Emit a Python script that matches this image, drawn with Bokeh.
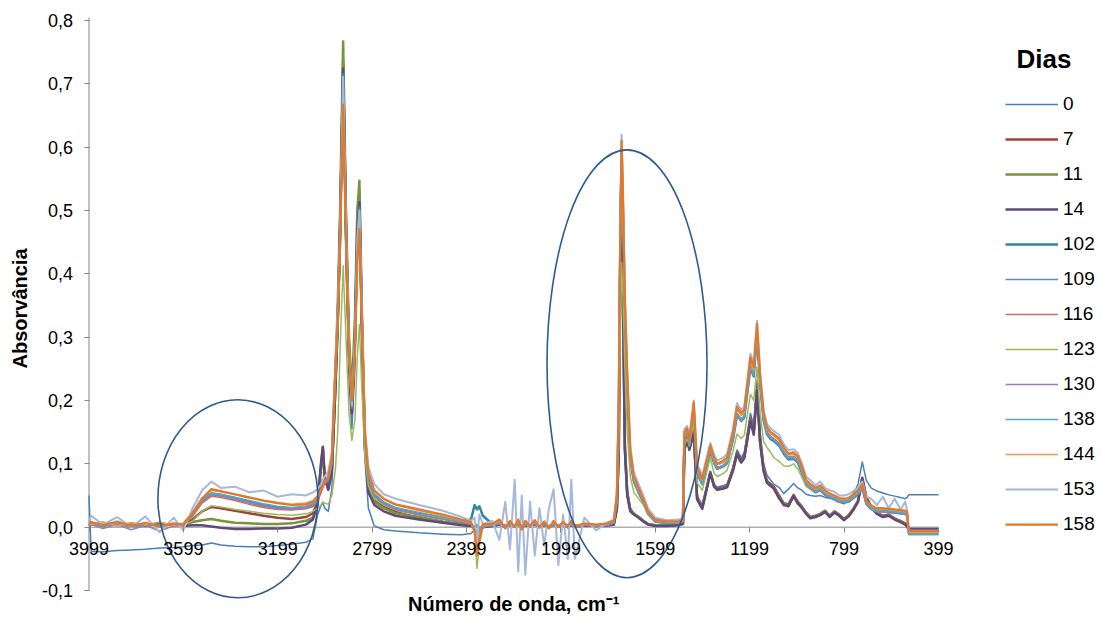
import numpy as np
from bokeh.plotting import figure
from bokeh.models import (Range1d, FixedTicker, CustomJSTickFormatter, Legend,
                          LegendItem, Label, ColumnDataSource)
from bokeh.embed import file_html
from bokeh.resources import INLINE

NA = float("nan")

# shared wavenumber grid (cm-1)
wavenumber = [
    3999, 3990, 3940, 3880, 3820, 3760, 3700, 3640, 3600, 3560, 3520, 3480, 3440, 3380, 3320, 3260, 3200, 3140, 3080,
    3050, 3030, 3015, 3008, 3000, 2985, 2970, 2955, 2945, 2935, 2922, 2910, 2897, 2885, 2872, 2862, 2853, 2843, 2830, 2815, 2790, 2750, 2700,
    2600, 2500, 2420, 2380, 2365, 2355, 2345, 2330,
    2290, 2260, 2235, 2215, 2195, 2180, 2165, 2150, 2130, 2110, 2090, 2070, 2050, 2030, 2010, 1990, 1970, 1955, 1940, 1900, 1850, 1800,
    1775, 1762, 1754, 1748, 1742, 1736, 1728, 1718, 1705, 1690, 1670, 1650, 1630, 1600,
    1550, 1500, 1482, 1476, 1464, 1455, 1436, 1422, 1400, 1366, 1350, 1337, 1310, 1295, 1270, 1253, 1235, 1222, 1196, 1182, 1168, 1155, 1140, 1126, 1110, 1097, 1075,
    1055, 1035, 1013, 995, 977, 960, 942, 920, 900, 880, 860, 840, 820, 800, 780, 760, 740, 722, 705, 685, 660, 635, 610, 585, 560, 540, 532, 525, 470, 399,
]

abs_0 = [
    0.050, -0.038, -0.039, -0.037, -0.036, -0.035, -0.033, -0.032, -0.031, -0.029, -0.028, -0.025, -0.028, -0.030, -0.031, -0.031, -0.029, -0.027, -0.024,
    -0.018, 0.020, 0.035, 0.038, 0.030, 0.025, 0.060, 0.200, 0.320, 0.420, 0.700, 0.420, 0.230, 0.155, 0.250, 0.420, 0.490, 0.300, 0.110, 0.030, 0.002, -0.004, -0.006,
    -0.009, -0.011, -0.012, -0.010, -0.004, 0.004, 0.000, 0.001,
    0.001, 0.003, 0.000, 0.002, 0.001, 0.003, 0.000, 0.002, 0.001, 0.003, 0.000, 0.002, 0.001, 0.003, 0.000, 0.002, 0.001, 0.002, 0.000, 0.002, 0.001, 0.002,
    0.004, 0.030, 0.120, 0.380, 0.560, 0.350, 0.130, 0.060, 0.030, 0.022, 0.016, 0.010, 0.005, 0.003,
    0.003, 0.004, 0.006, 0.120, 0.140, 0.125, 0.150, 0.050, 0.035, 0.088, 0.068, 0.063, 0.066, 0.068, 0.095, 0.122, 0.110, 0.118, 0.180, 0.160, 0.232, 0.150, 0.100, 0.082, 0.074, 0.068, 0.063,
    0.053, 0.060, 0.069, 0.062, 0.058, 0.052, 0.050, 0.049, 0.050, 0.047, 0.046, 0.044, 0.040, 0.037, 0.044, 0.052, 0.068, 0.103, 0.074, 0.062, 0.057, 0.054, 0.051, 0.049, 0.047, 0.045, 0.047, 0.051, 0.051, 0.051,
]

abs_7 = [
    NA, NA, NA, NA, NA, NA, NA, NA, 0.003, 0.012, 0.025, 0.032, 0.030, 0.026, 0.022, 0.018, 0.015, 0.013, 0.016,
    0.022, 0.040, 0.100, 0.126, 0.080, 0.060, 0.090, 0.220, 0.320, 0.470, 0.735, 0.480, 0.280, 0.185, 0.300, 0.470, 0.520, 0.330, 0.130, 0.062, 0.042, 0.032, 0.024,
    0.014, 0.008, 0.004, 0.003, -0.002, -0.018, -0.008, 0.002,
    0.003, 0.006, 0.001, 0.005, 0.002, 0.006, 0.000, 0.005, 0.002, 0.006, 0.001, 0.005, 0.001, 0.005, 0.002, 0.005, 0.001, 0.005, 0.002, 0.004, 0.003, 0.004,
    0.005, 0.030, 0.120, 0.400, 0.585, 0.360, 0.125, 0.052, 0.027, 0.021, 0.016, 0.010, 0.005, 0.003,
    0.003, 0.004, 0.006, 0.125, 0.142, 0.126, 0.152, 0.047, 0.032, 0.087, 0.066, 0.061, 0.063, 0.065, 0.092, 0.118, 0.105, 0.112, 0.172, 0.150, 0.220, 0.137, 0.092, 0.073, 0.068, 0.064, 0.050,
    0.038, 0.036, 0.051, 0.040, 0.032, 0.023, 0.016, 0.018, 0.021, 0.026, 0.018, 0.025, 0.020, 0.013, 0.019, 0.029, 0.042, 0.078, 0.048, 0.033, 0.023, 0.018, 0.020, 0.014, 0.010, 0.006, 0.003, -0.006, -0.006, -0.006,
]

abs_11 = [
    NA, NA, NA, NA, NA, NA, NA, NA, 0.003, 0.008, 0.011, 0.013, 0.010, 0.007, 0.006, 0.005, 0.005, 0.006, 0.010,
    0.015, 0.035, 0.095, 0.118, 0.078, 0.062, 0.095, 0.240, 0.350, 0.500, 0.767, 0.500, 0.300, 0.210, 0.330, 0.500, 0.547, 0.350, 0.135, 0.062, 0.040, 0.030, 0.022,
    0.016, 0.009, 0.005, 0.004, -0.001, -0.015, -0.006, 0.002,
    0.002, 0.005, 0.001, 0.004, 0.002, 0.005, 0.001, 0.004, 0.002, 0.005, 0.001, 0.004, 0.001, 0.004, 0.002, 0.004, 0.001, 0.004, 0.002, 0.004, 0.002, 0.004,
    0.005, 0.032, 0.125, 0.410, 0.590, 0.370, 0.130, 0.055, 0.028, 0.021, 0.016, 0.010, 0.005, 0.003,
    0.003, 0.004, 0.006, 0.123, 0.140, 0.124, 0.150, 0.046, 0.031, 0.086, 0.065, 0.060, 0.062, 0.064, 0.090, 0.116, 0.103, 0.110, 0.170, 0.148, 0.218, 0.135, 0.090, 0.071, 0.066, 0.062, 0.048,
    0.037, 0.034, 0.050, 0.038, 0.031, 0.022, 0.015, 0.017, 0.020, 0.025, 0.017, 0.024, 0.019, 0.012, 0.018, 0.028, 0.041, 0.076, 0.047, 0.032, 0.022, 0.017, 0.019, 0.013, 0.009, 0.005, 0.002, -0.004, -0.004, -0.004,
]

abs_14 = [
    NA, NA, NA, NA, NA, NA, NA, NA, 0.002, 0.003, 0.003, 0.001, -0.001, -0.003, -0.003, -0.002, -0.002, -0.001, 0.004,
    0.012, 0.040, 0.105, 0.127, 0.078, 0.059, 0.088, 0.220, 0.320, 0.470, 0.724, 0.470, 0.270, 0.180, 0.300, 0.470, 0.513, 0.320, 0.125, 0.055, 0.035, 0.025, 0.018,
    0.012, 0.007, 0.003, 0.002, 0.000, -0.020, -0.010, 0.000,
    0.002, 0.004, 0.000, 0.004, 0.001, 0.005, -0.001, 0.004, 0.001, 0.005, 0.000, 0.004, 0.000, 0.004, 0.001, 0.004, 0.000, 0.004, 0.001, 0.003, 0.002, 0.003,
    0.004, 0.028, 0.115, 0.390, 0.580, 0.350, 0.120, 0.050, 0.025, 0.020, 0.015, 0.009, 0.004, 0.002,
    0.002, 0.003, 0.005, 0.122, 0.138, 0.122, 0.148, 0.044, 0.029, 0.085, 0.064, 0.059, 0.061, 0.063, 0.089, 0.115, 0.102, 0.109, 0.168, 0.146, 0.216, 0.133, 0.088, 0.070, 0.065, 0.061, 0.046,
    0.035, 0.033, 0.049, 0.037, 0.030, 0.021, 0.014, 0.016, 0.019, 0.024, 0.016, 0.023, 0.018, 0.011, 0.017, 0.027, 0.040, 0.077, 0.046, 0.031, 0.021, 0.016, 0.018, 0.012, 0.008, 0.004, 0.001, -0.003, -0.003, -0.003,
]

abs_102 = [
    0.005, 0.004, 0.007, 0.003, 0.006, 0.002, 0.006, 0.003, 0.005, 0.021, 0.043, 0.053, 0.051, 0.046, 0.040, 0.035, 0.031, 0.029, 0.031,
    0.035, 0.045, 0.065, 0.075, 0.072, 0.076, 0.102, 0.240, 0.325, 0.455, 0.715, 0.465, 0.272, 0.192, 0.290, 0.450, 0.505, 0.330, 0.140, 0.076, 0.050, 0.038, 0.029,
    0.021, 0.014, 0.009, 0.012, 0.035, 0.028, 0.033, 0.018,
    0.005, 0.006, 0.002, 0.006, 0.002, 0.006, 0.001, 0.005, 0.002, 0.006, 0.001, 0.005, 0.001, 0.005, 0.002, 0.005, 0.001, 0.005, 0.002, 0.004, 0.003, 0.004,
    0.007, 0.042, 0.175, 0.425, 0.598, 0.495, 0.335, 0.220, 0.107, 0.072, 0.055, 0.040, 0.021, 0.009,
    0.006, 0.006, 0.009, 0.140, 0.148, 0.130, 0.185, 0.085, 0.068, 0.120, 0.101, 0.092, 0.096, 0.101, 0.138, 0.177, 0.168, 0.173, 0.252, 0.238, 0.304, 0.225, 0.168, 0.147, 0.139, 0.136, 0.129,
    0.116, 0.107, 0.108, 0.102, 0.085, 0.068, 0.061, 0.055, 0.059, 0.051, 0.047, 0.044, 0.040, 0.039, 0.040, 0.046, 0.052, 0.062, 0.037, 0.029, 0.025, 0.025, 0.024, 0.023, 0.022, 0.021, 0.019, -0.010, -0.010, -0.010,
]

abs_109 = [
    0.002, 0.005, 0.001, 0.005, 0.000, 0.004, 0.001, 0.004, 0.003, 0.018, 0.040, 0.051, 0.049, 0.044, 0.038, 0.033, 0.029, 0.028, 0.030,
    0.033, 0.043, 0.056, 0.064, 0.069, 0.075, 0.100, 0.235, 0.320, 0.450, 0.705, 0.460, 0.268, 0.190, 0.282, 0.440, 0.498, 0.325, 0.138, 0.074, 0.049, 0.037, 0.028,
    0.020, 0.013, 0.008, 0.005, -0.002, -0.010, -0.004, 0.003,
    0.003, 0.006, 0.000, 0.005, 0.001, 0.006, -0.001, 0.005, 0.001, 0.006, 0.000, 0.005, 0.000, 0.005, 0.001, 0.005, 0.000, 0.005, 0.001, 0.004, 0.002, 0.004,
    0.007, 0.043, 0.178, 0.428, 0.597, 0.497, 0.337, 0.222, 0.108, 0.073, 0.056, 0.040, 0.021, 0.009,
    0.006, 0.006, 0.009, 0.141, 0.149, 0.131, 0.186, 0.086, 0.069, 0.121, 0.102, 0.093, 0.097, 0.102, 0.139, 0.178, 0.169, 0.174, 0.254, 0.240, 0.306, 0.227, 0.170, 0.149, 0.141, 0.138, 0.131,
    0.118, 0.109, 0.110, 0.104, 0.087, 0.069, 0.062, 0.056, 0.060, 0.052, 0.048, 0.045, 0.041, 0.040, 0.041, 0.047, 0.053, 0.062, 0.037, 0.029, 0.025, 0.025, 0.024, 0.023, 0.022, 0.021, 0.019, -0.011, -0.011, -0.011,
]

abs_116 = [
    0.003, 0.005, 0.002, 0.006, 0.001, 0.005, 0.002, 0.004, 0.003, 0.017, 0.038, 0.049, 0.047, 0.042, 0.036, 0.031, 0.028, 0.027, 0.029,
    0.032, 0.042, 0.055, 0.063, 0.068, 0.074, 0.098, 0.232, 0.318, 0.448, 0.700, 0.455, 0.265, 0.188, 0.280, 0.435, 0.492, 0.322, 0.136, 0.073, 0.048, 0.036, 0.027,
    0.019, 0.013, 0.008, 0.005, -0.002, -0.012, -0.005, 0.003,
    0.003, 0.005, 0.001, 0.005, 0.001, 0.006, 0.000, 0.005, 0.001, 0.005, 0.000, 0.005, 0.001, 0.005, 0.001, 0.005, 0.000, 0.005, 0.001, 0.004, 0.002, 0.004,
    0.007, 0.042, 0.176, 0.426, 0.595, 0.495, 0.335, 0.220, 0.107, 0.072, 0.055, 0.040, 0.021, 0.009,
    0.006, 0.006, 0.009, 0.142, 0.150, 0.132, 0.187, 0.087, 0.070, 0.122, 0.103, 0.094, 0.098, 0.103, 0.140, 0.179, 0.170, 0.175, 0.256, 0.242, 0.305, 0.228, 0.171, 0.151, 0.143, 0.140, 0.133,
    0.120, 0.111, 0.112, 0.106, 0.089, 0.071, 0.064, 0.058, 0.062, 0.054, 0.050, 0.047, 0.043, 0.042, 0.043, 0.049, 0.055, 0.064, 0.039, 0.031, 0.027, 0.027, 0.026, 0.025, 0.024, 0.023, 0.021, -0.007, -0.007, -0.007,
]

abs_123 = [
    NA, NA, NA, NA, NA, NA, NA, NA, 0.003, 0.010, 0.025, 0.034, 0.032, 0.028, 0.025, 0.022, 0.020, 0.019, 0.021,
    0.025, 0.030, 0.035, 0.040, 0.038, 0.036, 0.050, 0.090, 0.150, 0.280, 0.413, 0.300, 0.180, 0.137, 0.170, 0.270, 0.320, 0.220, 0.110, 0.065, 0.045, 0.035, 0.028,
    0.020, 0.014, 0.009, 0.006, -0.010, -0.065, -0.030, 0.000,
    0.004, 0.007, 0.002, 0.006, 0.003, 0.007, 0.001, 0.006, 0.003, 0.007, 0.002, 0.006, 0.002, 0.006, 0.003, 0.006, 0.002, 0.006, 0.003, 0.005, 0.004, 0.005,
    0.008, 0.040, 0.130, 0.300, 0.418, 0.360, 0.250, 0.150, 0.080, 0.055, 0.045, 0.035, 0.020, 0.010,
    0.007, 0.007, 0.010, 0.130, 0.140, 0.128, 0.170, 0.070, 0.058, 0.110, 0.085, 0.080, 0.085, 0.090, 0.120, 0.147, 0.140, 0.145, 0.210, 0.200, 0.253, 0.180, 0.135, 0.126, 0.118, 0.110, 0.104,
    0.097, 0.096, 0.100, 0.092, 0.078, 0.064, 0.060, 0.057, 0.060, 0.054, 0.050, 0.047, 0.043, 0.042, 0.043, 0.049, 0.055, 0.066, 0.040, 0.032, 0.028, 0.028, 0.027, 0.026, 0.025, 0.024, 0.022, -0.009, -0.009, -0.009,
]

abs_130 = [
    0.002, 0.004, -0.002, 0.004, -0.004, 0.003, -0.006, 0.002, 0.002, 0.019, 0.041, 0.052, 0.050, 0.045, 0.039, 0.034, 0.030, 0.029, 0.031,
    0.034, 0.044, 0.057, 0.065, 0.070, 0.076, 0.101, 0.238, 0.322, 0.452, 0.710, 0.462, 0.270, 0.191, 0.285, 0.445, 0.502, 0.328, 0.139, 0.075, 0.049, 0.037, 0.028,
    0.020, 0.013, 0.008, 0.005, -0.003, -0.018, -0.007, 0.002,
    0.002, 0.005, -0.002, 0.004, 0.000, 0.005, -0.003, 0.004, 0.000, 0.005, -0.001, 0.004, -0.002, 0.004, 0.000, 0.004, -0.001, 0.004, 0.000, 0.003, 0.001, 0.003,
    0.007, 0.043, 0.177, 0.427, 0.596, 0.496, 0.336, 0.221, 0.108, 0.073, 0.056, 0.040, 0.021, 0.009,
    0.006, 0.006, 0.009, 0.140, 0.148, 0.130, 0.185, 0.085, 0.068, 0.120, 0.101, 0.092, 0.096, 0.101, 0.138, 0.177, 0.168, 0.173, 0.253, 0.239, 0.305, 0.226, 0.169, 0.148, 0.140, 0.137, 0.130,
    0.117, 0.108, 0.109, 0.103, 0.086, 0.068, 0.061, 0.055, 0.059, 0.051, 0.047, 0.044, 0.040, 0.039, 0.040, 0.046, 0.052, 0.061, 0.036, 0.028, 0.024, 0.024, 0.023, 0.022, 0.021, 0.020, 0.018, -0.005, -0.005, -0.005,
]

abs_138 = [
    0.003, 0.006, 0.002, 0.006, 0.001, 0.005, 0.002, 0.005, 0.004, 0.020, 0.042, 0.054, 0.052, 0.047, 0.042, 0.037, 0.033, 0.031, 0.033,
    0.037, 0.046, 0.058, 0.066, 0.071, 0.078, 0.105, 0.245, 0.330, 0.455, 0.700, 0.460, 0.270, 0.195, 0.285, 0.440, 0.495, 0.330, 0.145, 0.080, 0.053, 0.040, 0.031,
    0.023, 0.016, 0.010, 0.006, 0.000, -0.012, -0.004, 0.004,
    0.004, 0.007, 0.001, 0.006, 0.002, 0.007, 0.000, 0.006, 0.002, 0.007, 0.001, 0.006, 0.001, 0.006, 0.002, 0.006, 0.001, 0.006, 0.002, 0.005, 0.003, 0.005,
    0.008, 0.045, 0.180, 0.430, 0.600, 0.500, 0.340, 0.225, 0.110, 0.074, 0.057, 0.041, 0.022, 0.010,
    0.007, 0.007, 0.010, 0.143, 0.150, 0.132, 0.188, 0.088, 0.070, 0.122, 0.103, 0.094, 0.098, 0.103, 0.141, 0.180, 0.171, 0.176, 0.256, 0.242, 0.308, 0.229, 0.171, 0.150, 0.142, 0.139, 0.132,
    0.119, 0.110, 0.111, 0.105, 0.088, 0.070, 0.063, 0.057, 0.061, 0.053, 0.049, 0.046, 0.042, 0.041, 0.042, 0.048, 0.054, 0.063, 0.038, 0.030, 0.026, 0.026, 0.025, 0.024, 0.023, 0.022, 0.020, -0.012, -0.012, -0.012,
]

abs_144 = [
    0.006, 0.004, 0.008, 0.002, 0.007, 0.004, 0.008, 0.003, 0.006, 0.024, 0.046, 0.058, 0.056, 0.051, 0.046, 0.042, 0.039, 0.036, 0.038,
    0.042, 0.050, 0.060, 0.067, 0.073, 0.080, 0.110, 0.255, 0.335, 0.460, 0.680, 0.460, 0.275, 0.200, 0.285, 0.430, 0.480, 0.335, 0.150, 0.085, 0.057, 0.044, 0.035,
    0.026, 0.018, 0.011, 0.007, -0.003, -0.030, -0.012, 0.004,
    0.004, 0.009, 0.000, 0.008, 0.001, 0.009, -0.002, 0.008, 0.002, 0.009, 0.001, 0.008, -0.001, 0.008, 0.001, 0.007, 0.002, 0.008, 0.001, 0.005, 0.004, 0.005,
    0.009, 0.048, 0.190, 0.440, 0.600, 0.510, 0.350, 0.235, 0.115, 0.077, 0.060, 0.043, 0.024, 0.011,
    0.008, 0.008, 0.011, 0.148, 0.153, 0.135, 0.192, 0.092, 0.074, 0.126, 0.107, 0.098, 0.102, 0.107, 0.146, 0.186, 0.176, 0.181, 0.262, 0.248, 0.314, 0.235, 0.176, 0.155, 0.147, 0.144, 0.137,
    0.123, 0.114, 0.115, 0.109, 0.092, 0.073, 0.066, 0.060, 0.064, 0.056, 0.052, 0.049, 0.045, 0.044, 0.045, 0.051, 0.057, 0.066, 0.041, 0.033, 0.029, 0.029, 0.028, 0.027, 0.026, 0.025, 0.023, -0.008, -0.008, -0.008,
]

abs_153 = [
    0.010, 0.018, 0.004, 0.016, 0.000, 0.017, -0.008, 0.015, -0.005, 0.030, 0.058, 0.072, 0.062, 0.064, 0.055, 0.058, 0.048, 0.052, 0.050,
    0.055, 0.060, 0.068, 0.075, 0.080, 0.088, 0.118, 0.260, 0.345, 0.470, 0.711, 0.480, 0.285, 0.192, 0.300, 0.455, 0.500, 0.345, 0.160, 0.095, 0.068, 0.052, 0.045,
    0.035, 0.026, 0.016, 0.010, 0.015, -0.030, 0.020, 0.005,
    0.010, -0.020, 0.040, -0.035, 0.075, -0.070, 0.050, -0.075, 0.040, -0.045, 0.030, -0.030, 0.030, 0.060, -0.060, 0.020, -0.050, 0.075, -0.050, 0.015, -0.005, 0.008,
    0.012, 0.055, 0.210, 0.460, 0.620, 0.530, 0.370, 0.250, 0.128, 0.086, 0.068, 0.050, 0.030, 0.015,
    0.011, 0.012, 0.015, 0.155, 0.160, 0.142, 0.200, 0.100, 0.082, 0.133, 0.115, 0.105, 0.110, 0.116, 0.155, 0.196, 0.185, 0.190, 0.274, 0.258, 0.326, 0.245, 0.186, 0.163, 0.156, 0.152, 0.146,
    0.131, 0.122, 0.123, 0.117, 0.100, 0.080, 0.074, 0.066, 0.072, 0.062, 0.058, 0.056, 0.050, 0.050, 0.052, 0.057, 0.062, 0.072, 0.048, 0.045, 0.035, 0.048, 0.030, 0.045, 0.028, 0.040, 0.026, -0.006, -0.006, -0.006,
]

abs_158 = [
    0.004, 0.008, 0.003, 0.009, 0.002, 0.007, 0.001, 0.006, 0.004, 0.022, 0.045, 0.060, 0.057, 0.052, 0.047, 0.042, 0.038, 0.035, 0.036,
    0.040, 0.048, 0.058, 0.065, 0.072, 0.080, 0.110, 0.250, 0.330, 0.450, 0.667, 0.450, 0.270, 0.200, 0.280, 0.420, 0.471, 0.330, 0.150, 0.085, 0.058, 0.045, 0.036,
    0.028, 0.020, 0.012, 0.008, -0.005, -0.045, -0.020, 0.005,
    0.005, 0.012, -0.002, 0.010, 0.000, 0.012, -0.004, 0.010, 0.002, 0.011, 0.000, 0.009, -0.002, 0.010, 0.000, 0.008, 0.002, 0.010, 0.000, 0.006, 0.004, 0.006,
    0.010, 0.050, 0.200, 0.450, 0.610, 0.520, 0.360, 0.240, 0.120, 0.080, 0.062, 0.045, 0.025, 0.012,
    0.009, 0.009, 0.012, 0.150, 0.156, 0.137, 0.197, 0.095, 0.076, 0.129, 0.110, 0.100, 0.105, 0.110, 0.150, 0.190, 0.180, 0.185, 0.268, 0.253, 0.321, 0.240, 0.180, 0.158, 0.150, 0.147, 0.140,
    0.126, 0.116, 0.118, 0.112, 0.095, 0.075, 0.068, 0.062, 0.066, 0.058, 0.053, 0.050, 0.046, 0.045, 0.046, 0.052, 0.058, 0.068, 0.042, 0.034, 0.030, 0.030, 0.029, 0.028, 0.027, 0.026, 0.024, -0.006, -0.006, -0.006,
]

days = ["0", "7", "11", "14", "102", "109", "116", "123", "130", "138", "144", "153", "158"]
series_values = [abs_0, abs_7, abs_11, abs_14, abs_102, abs_109, abs_116, abs_123,
                 abs_130, abs_138, abs_144, abs_153, abs_158]
colors = ["#4A7EBB", "#A0413E", "#77933C", "#604A7B", "#31859C", "#5B8CC8", "#CF6A67",
          "#9BBB59", "#9580B4", "#4BACC6", "#F79646", "#A6B8D8", "#E0782E"]
widths = [1.5, 2.5, 2.5, 2.5, 2.5, 1.5, 1.5, 1.5, 1.5, 1.5, 1.5, 2.0, 2.25]

x_ticks = [3999, 3599, 3199, 2799, 2399, 1999, 1599, 1199, 799, 399]
y_ticks = [-0.1, 0.0, 0.1, 0.2, 0.3, 0.4, 0.5, 0.6, 0.7, 0.8]

# highlight ellipses (centre wavenumber, centre absorbance, width cm-1, height abs.)
ellipse_x = [3368, 1719]
ellipse_y = [0.0448, 0.258]
ellipse_w = [678, 678]
ellipse_h = [0.3126, 0.676]

for name, vals in zip(days, series_values):
    assert len(vals) == len(wavenumber), (name, len(vals), len(wavenumber))

# ---- layout geometry (pixels inside the canvas) ----
W, H = 1100, 616
PLOT_L, PLOT_R = 88.5, 938.0      # pixel x of 3999 and 399
PLOT_T, PLOT_B = 20.0, 590.0      # pixel y of 0.8 and -0.1
cm_per_px = (x_ticks[0] - x_ticks[-1]) / (PLOT_R - PLOT_L)
abs_per_px = (y_ticks[-1] - y_ticks[0]) / (PLOT_B - PLOT_T)
x_start = x_ticks[0] + PLOT_L * cm_per_px
x_end = x_ticks[-1] - (W - PLOT_R) * cm_per_px
y_end = y_ticks[-1] + PLOT_T * abs_per_px
y_start = y_ticks[0] - (H - PLOT_B) * abs_per_px

FONT = "Liberation Sans"
AXIS_COL = "#868686"

p = figure(width=W, height=H, output_backend="svg", toolbar_location=None,
           x_range=Range1d(x_start, x_end), y_range=Range1d(y_start, y_end),
           min_border=0)
p.title.visible = False
p.outline_line_color = None
p.xgrid.visible = False
p.ygrid.visible = False
p.background_fill_color = "white"

# axis lines (limited to the plotting area)
p.line(x=[x_ticks[0], x_ticks[-1]], y=[0, 0], line_color=AXIS_COL, line_width=1)
p.line(x=[x_ticks[0], x_ticks[0]], y=[y_ticks[0], y_ticks[-1] + 3 * abs_per_px],
       line_color=AXIS_COL, line_width=1)

renderers = []
x_arr = np.array(wavenumber, dtype=float)
for name, vals, col, w in zip(days, series_values, colors, widths):
    src = ColumnDataSource(dict(x=x_arr, y=np.array(vals, dtype=float)))
    r = p.line("x", "y", source=src, line_color=col, line_width=w, line_join="round")
    renderers.append((name, r))

p.ellipse(x=ellipse_x, y=ellipse_y, width=ellipse_w, height=ellipse_h,
          fill_color=None, line_color="#2F5B8E", line_width=1.6)

# x axis drawn at y = 0
xa = p.xaxis[0]
xa.fixed_location = 0
xa.ticker = FixedTicker(ticks=x_ticks)
xa.axis_line_color = None
xa.major_tick_line_color = AXIS_COL
xa.major_tick_out = 5
xa.major_tick_in = 0
xa.minor_tick_line_color = None
xa.major_label_text_font = FONT
xa.major_label_text_font_size = "18px"
xa.major_label_text_color = "black"
xa.major_label_standoff = 10

# y axis drawn at x = 3999
ya = p.yaxis[0]
ya.fixed_location = x_ticks[0]
ya.ticker = FixedTicker(ticks=y_ticks)
ya.formatter = CustomJSTickFormatter(code="return tick.toFixed(1).replace('.', ',');")
ya.axis_line_color = None
ya.major_tick_line_color = AXIS_COL
ya.major_tick_out = 5
ya.major_tick_in = 0
ya.minor_tick_line_color = None
ya.major_label_text_font = FONT
ya.major_label_text_font_size = "18px"
ya.major_label_text_color = "black"
ya.major_label_standoff = 11
ya.axis_label = "Absorvância"
ya.axis_label_text_font = FONT
ya.axis_label_text_font_size = "20px"
ya.axis_label_text_font_style = "bold"
ya.axis_label_text_color = "black"
ya.axis_label_standoff = 8

# x axis title, centred under the plotting area
p.add_layout(Label(x=(x_ticks[0] + x_ticks[-1]) / 2, y=y_ticks[0] - 2 * abs_per_px,
                   text="Número de onda, cm⁻¹", text_align="center",
                   text_baseline="top", text_font=FONT, text_font_size="20px",
                   text_font_style="bold", text_color="black"))

# legend title
p.add_layout(Label(x=x_start - 1016 * cm_per_px, y=y_end - 43 * abs_per_px,
                   text="Dias", text_align="left", text_baseline="top",
                   text_font=FONT, text_font_size="26px", text_font_style="bold",
                   text_color="black"))

legend = Legend(items=[LegendItem(label=n, renderers=[r]) for n, r in renderers],
                location=(1005, 81))
legend.label_text_font = FONT
legend.label_text_font_size = "19px"
legend.label_text_color = "black"
legend.glyph_width = 53
legend.glyph_height = 22
legend.label_height = 22
legend.label_standoff = 5
legend.spacing = 13
legend.padding = 0
legend.margin = 0
legend.border_line_color = None
legend.background_fill_alpha = 0
p.add_layout(legend)

open("out.html", "w").write(file_html(p, INLINE))
